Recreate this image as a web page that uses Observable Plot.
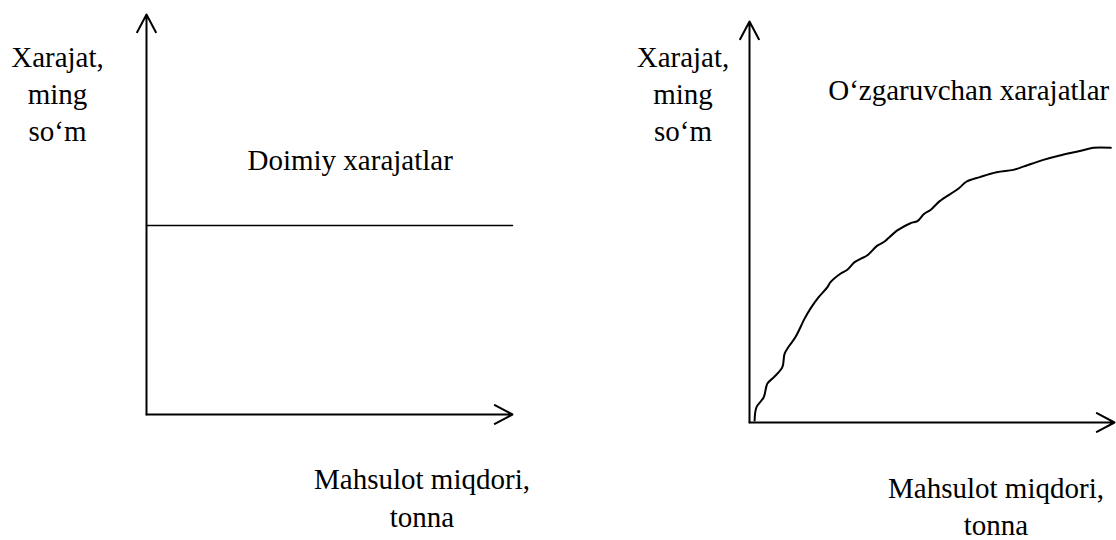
<!DOCTYPE html>
<html><head><meta charset="utf-8">
<script src="https://cdn.jsdelivr.net/npm/d3@7"></script>
<script src="https://cdn.jsdelivr.net/npm/@observablehq/plot@0.6"></script>
<style>
html,body{margin:0;padding:0;background:#fff;}
#chart{position:relative;width:1116px;height:540px;overflow:hidden;background:#fff;}
#chart svg{position:absolute;top:0;max-width:none;}
#chart svg text, #chart svg tspan{font-family:"Liberation Serif","Times New Roman",serif !important;}
</style></head><body><div id="chart"></div>
<script>
// Shared scale domains (quantity, cost)
const quantityDomain = [0, 100];
const costDomain = [0, 100];

// Left panel: fixed costs
const fixedQuantity = [0, 100];
const fixedCost = [47.25, 47.25];

// Right panel: variable costs
const variableQuantity = [1.4, 1.9, 3.9, 4.9, 6.7, 9.0, 9.6, 10.8, 12.6, 15.1, 16.7, 19.0, 21.3, 22.2, 24.9, 26.8, 28.8, 30.4, 32.3, 35.0, 36.8, 40.5, 44.1, 46.0, 47.8, 49.6, 52.1, 57.2, 59.5, 63.1, 67.7, 72.3, 75.0, 80.5, 85.0, 90.5, 94.2, 99.0];
const variableCost     = [0.5, 3.8, 6.3, 9.7, 11.3, 13.8, 17.1, 19.0, 21.3, 25.9, 28.4, 31.3, 33.7, 35.0, 37.1, 38.1, 40.0, 40.8, 41.7, 44.1, 45.0, 47.9, 49.7, 50.2, 52.0, 53.0, 55.2, 58.3, 60.1, 61.2, 62.4, 63.0, 63.8, 65.5, 66.6, 67.7, 68.5, 68.5];

// Texts
const yTitle = "Xarajat,\nming\nso‘m";
const xTitle = "Mahsulot miqdori,\ntonna";
const fixedTitle = "Doimiy xarajatlar";
const variableTitle = "O‘zgaruvchan xarajatlar";

const font = {fontFamily: "Liberation Serif", fontSize: 29, fill: "#000"};
const arrowStyle = {stroke: "#000", strokeWidth: 2, headAngle: 56, headLength: 15};

function axisArrows() {
  return [
    Plot.arrow([{x1: quantityDomain[0], y1: costDomain[0], x2: quantityDomain[0], y2: costDomain[1]}],
      {x1: "x1", y1: "y1", x2: "x2", y2: "y2", ...arrowStyle}),
    Plot.arrow([{x1: quantityDomain[0], y1: costDomain[0], x2: quantityDomain[1], y2: costDomain[0]}],
      {x1: "x1", y1: "y1", x2: "x2", y2: "y2", ...arrowStyle})
  ];
}

const left = Plot.plot({
  width: 558, height: 540,
  marginLeft: 146, marginRight: 46, marginTop: 14, marginBottom: 126,
  style: {fontFamily: "Liberation Serif"},
  x: {domain: quantityDomain, axis: null},
  y: {domain: costDomain, axis: null},
  marks: [
    Plot.line(fixedQuantity.map((q, i) => ({q, c: fixedCost[i]})), {x: "q", y: "c", stroke: "#000", strokeWidth: 1.6}),
    ...axisArrows(),
    Plot.text([yTitle], {text: d => d, frameAnchor: "top-left", textAnchor: "middle", lineAnchor: "bottom", lineHeight: 1.26, dx: -89, dy: 126, ...font}),
    Plot.text([fixedTitle], {text: d => d, frameAnchor: "top-left", textAnchor: "start", lineAnchor: "bottom", dx: 101, dy: 155, ...font}),
    Plot.text([xTitle], {text: d => d, frameAnchor: "bottom-left", textAnchor: "middle", lineAnchor: "bottom", lineHeight: 1.3, dx: 275.5, dy: 112, ...font})
  ]
});

const right = Plot.plot({
  width: 558, height: 540,
  marginLeft: 191, marginRight: 2, marginTop: 21, marginBottom: 118,
  style: {fontFamily: "Liberation Serif"},
  x: {domain: quantityDomain, axis: null},
  y: {domain: costDomain, axis: null},
  marks: [
    Plot.line(variableQuantity.map((q, i) => ({q, c: variableCost[i]})), {x: "q", y: "c", stroke: "#000", strokeWidth: 2, curve: "catmull-rom"}),
    ...axisArrows(),
    Plot.text([yTitle], {text: d => d, frameAnchor: "top-left", textAnchor: "middle", lineAnchor: "bottom", lineHeight: 1.26, dx: -66.5, dy: 119, ...font}),
    Plot.text([variableTitle], {text: d => d, frameAnchor: "top-left", textAnchor: "start", lineAnchor: "bottom", dx: 78.7, dy: 78.5, ...font}),
    Plot.text([xTitle], {text: d => d, frameAnchor: "bottom-left", textAnchor: "middle", lineAnchor: "bottom", lineHeight: 1.26, dx: 246.5, dy: 112, ...font})
  ]
});

left.style.left = "0px";
right.style.left = "558px";
const chart = document.getElementById("chart");
chart.appendChild(left);
chart.appendChild(right);
</script>
</body></html>
